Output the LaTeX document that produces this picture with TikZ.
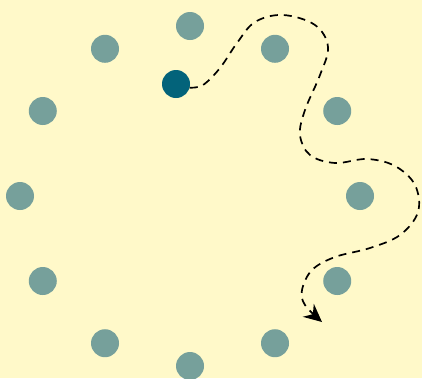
\documentclass[tikz,border=0pt]{standalone}
\usetikzlibrary{arrows.meta}
\definecolor{bgc}{HTML}{FFF9C9}
\definecolor{dotc}{HTML}{76A09B}
\definecolor{darkc}{HTML}{03637A}
\begin{document}
\begin{tikzpicture}[x=1pt,y=-1pt,
  dot/.style={circle,fill=dotc,minimum size=28pt,inner sep=0pt},
  startdot/.style={circle,fill=darkc,minimum size=28pt,inner sep=0pt},
  route/.style={dash pattern=on 8pt off 6pt,line width=1.7pt,-{Stealth[length=18pt,width=17pt,inset=6pt]}}]
\fill[bgc] (0,0) rectangle (422,378);
\useasboundingbox (0,0) rectangle (422,378);
\foreach \i in {0,...,11}{
  \node[dot] (d\i) at ({190+170*sin(30*\i)},{196-170*cos(30*\i)}) {};
}
\node[startdot] (s) at (176,84) {};
\coordinate (e) at (322,322);
\draw[route] plot[smooth,tension=0.6] coordinates {(s.-15) (203,85) (220,68) (237,43) (255,22) (283,15) (315,25) (328,47) (320,75) (305,110) (300,135) (310,155) (335,163) (367,159) (395,166) (415,185) (418,212) (400,235) (370,248) (335,257) (312,270) (302,290) (305,305) (e)};
\end{tikzpicture}
\end{document}
